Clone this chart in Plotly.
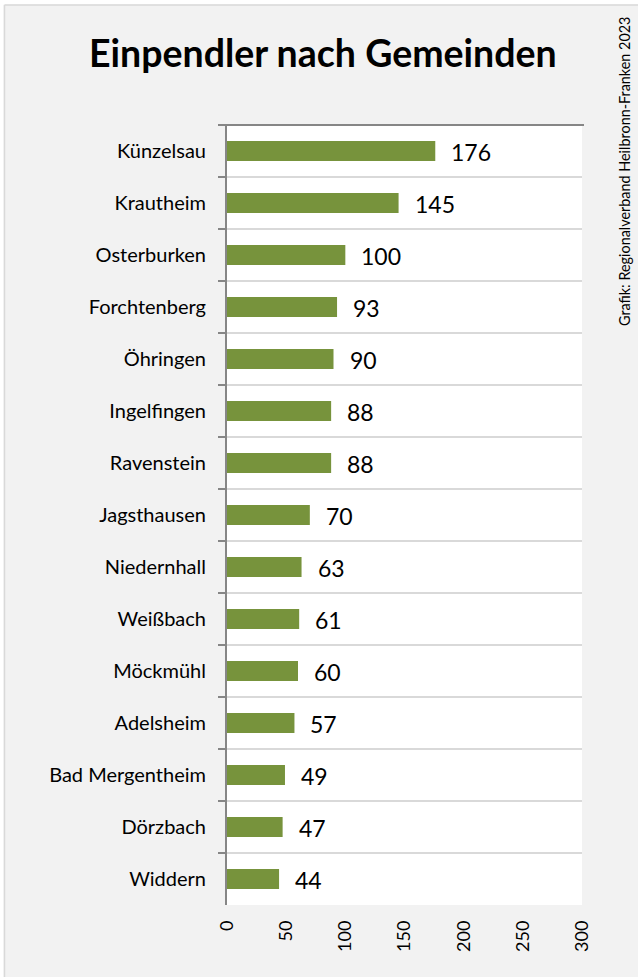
import plotly.graph_objects as go

categories = ["Künzelsau", "Krautheim", "Osterburken", "Forchtenberg", "Öhringen",
              "Ingelfingen", "Ravenstein", "Jagsthausen", "Niedernhall", "Weißbach",
              "Möckmühl", "Adelsheim", "Bad Mergentheim", "Dörzbach", "Widdern"]
values = [176, 145, 100, 93, 90, 88, 88, 70, 63, 61, 60, 57, 49, 47, 44]
x_ticks = [0, 50, 100, 150, 200, 250, 300]

W, H = 638, 977
L, R, T, B = 227, 56, 125, 72
pw, ph = W - L - R, H - T - B

def px_x(p):
    return (p - L) / pw

def px_y(p):
    return (H - B - p) / ph

FONT = "Lato"
fig = go.Figure()
fig.add_trace(go.Bar(
    x=values, y=categories, orientation="h",
    marker=dict(color="#77933C", line=dict(width=0)),
    width=0.38, hoverinfo="skip",
))

fig.update_layout(
    width=W, height=H,
    margin=dict(l=L, r=R, t=T, b=B, autoexpand=False),
    paper_bgcolor="#F2F2F2", plot_bgcolor="#FFFFFF",
    showlegend=False,
    font=dict(family=FONT, color="#000000"),
    xaxis=dict(range=[0, 300], tickvals=x_ticks, ticktext=[str(t) for t in x_ticks],
               tickangle=-90, showgrid=False, zeroline=False, showline=False,
               ticks="", ticklabelstandoff=11, tickfont=dict(size=18, family=FONT),
               fixedrange=True),
    yaxis=dict(type="category", autorange="reversed", tickson="boundaries",
               showgrid=True, gridcolor="#D9D9D9", gridwidth=1.5,
               showline=True, linecolor="#868686", linewidth=2,
               ticks="outside", ticklen=7, tickcolor="#868686", tickwidth=2,
               ticklabelstandoff=15, tickfont=dict(size=20, family=FONT)),
    shapes=[
        # top axis line
        dict(type="line", xref="paper", yref="paper", x0=px_x(219), x1=px_x(584),
             y0=1, y1=1, line=dict(color="#868686", width=2)),
        # white strips and border
        dict(type="rect", xref="paper", yref="paper", x0=px_x(0), x1=px_x(W),
             y0=px_y(0), y1=px_y(4.5), fillcolor="#FFFFFF", line=dict(width=0), layer="below"),
        dict(type="rect", xref="paper", yref="paper", x0=px_x(0), x1=px_x(3.5),
             y0=px_y(0), y1=px_y(H), fillcolor="#FFFFFF", line=dict(width=0), layer="below"),
        dict(type="line", xref="paper", yref="paper", x0=px_x(4.5), x1=px_x(W),
             y0=px_y(5), y1=px_y(5), line=dict(color="#D9D9D9", width=1.5)),
        dict(type="line", xref="paper", yref="paper", x0=px_x(4.5), x1=px_x(4.5),
             y0=px_y(5), y1=px_y(H), line=dict(color="#D9D9D9", width=1.5)),
    ],
)

fig.add_annotation(text="<b>Einpendler nach Gemeinden</b>", xref="paper", yref="paper",
                   x=px_x(323), y=px_y(52), xanchor="center", yanchor="middle", showarrow=False,
                   font=dict(family=FONT, size=37.5, color="#000000"))
fig.add_annotation(text="Grafik: Regionalverband Heilbronn-Franken 2023", xref="paper", yref="paper",
                   x=px_x(624), y=px_y(172), xanchor="center", yanchor="middle", textangle=-90,
                   showarrow=False, font=dict(family=FONT, size=14.4, color="#000000"))

for c, v in zip(categories, values):
    fig.add_annotation(x=v, y=c, xref="x", yref="y", text=str(v), showarrow=False,
                       xanchor="left", yanchor="middle", xshift=14, yshift=-1,
                       font=dict(family=FONT, size=23, color="#000000"))

fig.write_html("out.html", config={"displayModeBar": False},
               post_script="document.body.style.margin='0';document.body.style.overflow='hidden';")
